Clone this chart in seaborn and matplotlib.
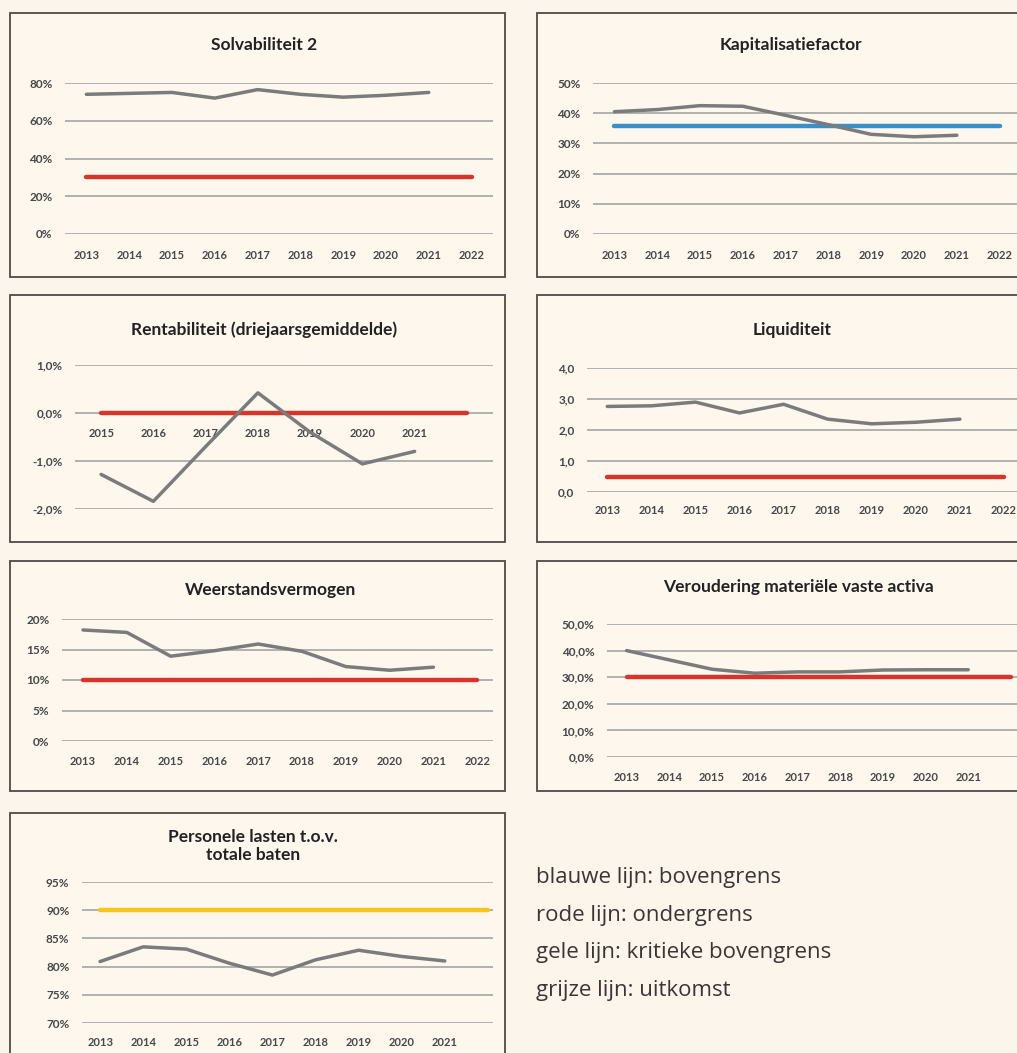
import numpy as np
import pandas as pd
import seaborn as sns
import matplotlib.pyplot as plt
from matplotlib.patches import Rectangle

# jaren en waarden
jaren = ['2013', '2014', '2015', '2016', '2017', '2018', '2019', '2020', '2021', '2022']
jaren_rent = ['2015', '2016', '2017', '2018', '2019', '2020', '2021', '']
jaren_tot_2021 = ['2013', '2014', '2015', '2016', '2017', '2018', '2019', '2020', '2021', '']

solvabiliteit = [74.0, 74.5, 75.0, 72.0, 76.5, 74.0, 72.5, 73.5, 75.0]
solvabiliteit_onder = 30

kapitalisatie = [40.5, 41.2, 42.5, 42.3, 39.3, 36.2, 33.0, 32.2, 32.7]
kapitalisatie_boven = 35.8

rentabiliteit = [-1.28, -1.84, -0.70, 0.42, -0.40, -1.06, -0.80]
rentabiliteit_onder = 0.0

liquiditeit = [2.76, 2.78, 2.90, 2.55, 2.83, 2.35, 2.20, 2.25, 2.35]
liquiditeit_onder = 0.5

weerstand = [18.2, 17.8, 13.9, 14.8, 15.9, 14.7, 12.2, 11.6, 12.1]
weerstand_onder = 10

veroudering = [40.0, 36.5, 33.0, 31.5, 32.0, 32.0, 32.7, 32.8, 32.8]
veroudering_onder = 30

personeel = [80.9, 83.5, 83.1, 80.6, 78.5, 81.2, 82.9, 81.8, 81.0]
personeel_kritiek = 90

yt_solv = ['0%', '20%', '40%', '60%', '80%']
yt_kap = ['0%', '10%', '20%', '30%', '40%', '50%']
yt_rent = ['-2,0%', '-1,0%', '0,0%', '1,0%']
yt_liq = ['0,0', '1,0', '2,0', '3,0', '4,0']
yt_weer = ['0%', '5%', '10%', '15%', '20%']
yt_verou = ['0,0%', '10,0%', '20,0%', '30,0%', '40,0%', '50,0%']
yt_pers = ['70%', '75%', '80%', '85%', '90%', '95%']

legenda = ['blauwe lijn: bovengrens', 'rode lijn: ondergrens',
           'gele lijn: kritieke bovengrens', 'grijze lijn: uitkomst']

BG = '#FCF5EB'
INNER = '#FDF7EE'
FRAME = '#4f4a47'
GRID = '#ababab'
GREY = '#7b7b7b'
RED = '#D8352A'
BLUE = '#3A8FC8'
YELLOW = '#F7C520'

sns.set_theme(style='white')
plt.rcParams['font.family'] = ['Lato', 'DejaVu Sans']

W, H = 1017, 1053
fig = plt.figure(figsize=(W / 100, H / 100), dpi=100, facecolor=BG)


def frame(x0, y0, x1, y1):
    fig.add_artist(Rectangle((x0 / W, 1 - y1 / H), (x1 - x0) / W, (y1 - y0) / H,
                             transform=fig.transFigure, fc=INNER, ec=FRAME,
                             lw=1.3, zorder=-1))


def panel(box, labels, waarden, grens, kleur, yticks, ylabels, xlim, xpad,
          title, tpos, zero_axis=False):
    x0, y0, x1, y1 = box
    ax = fig.add_axes([x0 / W, 1 - y1 / H, (x1 - x0) / W, (y1 - y0) / H])
    ax.set_facecolor('none')
    n = len(labels)
    df = pd.DataFrame({'pos': np.arange(n),
                       'grens': [grens] * n,
                       'uitkomst': waarden + [np.nan] * (n - len(waarden))})
    sns.lineplot(data=df, x='pos', y='grens', ax=ax, color=kleur, lw=3.2,
                 solid_capstyle='round')
    sns.lineplot(data=df.dropna(), x='pos', y='uitkomst', ax=ax, color=GREY,
                 lw=2.5, solid_capstyle='round')
    ax.set_xlim(*xlim)
    ax.set_ylim(yticks[0], yticks[-1])
    ax.set_yticks(yticks)
    ax.set_yticklabels(ylabels)
    ax.set_xticks(np.arange(n))
    ax.set_xticklabels(labels)
    ax.set_xlabel('')
    ax.set_ylabel('')
    ax.yaxis.grid(True, color=GRID, lw=1.3)
    ax.set_axisbelow(True)
    for s in ax.spines.values():
        s.set_visible(False)
    if zero_axis:
        ax.spines['bottom'].set_position(('data', 0))
    ax.tick_params(axis='x', length=0, pad=xpad, labelsize=8, labelcolor='#474747')
    ax.tick_params(axis='y', length=0, pad=9, labelsize=8.5, labelcolor='#474747')
    for t in ax.get_xticklabels() + ax.get_yticklabels():
        t.set_fontweight('bold')
    fig.text(tpos[0] / W, 1 - tpos[1] / H, title, ha='center', va='center',
             fontsize=12.5, fontweight='bold', color='#222222', linespacing=1.2)
    return ax


frame(10, 13, 505, 277)
frame(537, 13, 1040, 277)
frame(10, 295, 505, 542)
frame(537, 295, 1040, 542)
frame(10, 561, 505, 791)
frame(537, 561, 1040, 791)
frame(10, 813, 505, 1070)

panel((65, 83, 493, 234), jaren, solvabiliteit, solvabiliteit_onder, RED,
      [0, 20, 40, 60, 80], yt_solv, (-0.5, 9.5), 11.5, 'Solvabiliteit 2', (264, 45))
panel((593, 83, 1021, 234), jaren, kapitalisatie, kapitalisatie_boven, BLUE,
      [0, 10, 20, 30, 40, 50], yt_kap, (-0.5, 9.5), 11.5, 'Kapitalisatiefactor', (791, 45))
panel((75, 365, 493, 509), jaren_rent, rentabiliteit, rentabiliteit_onder, RED,
      [-2, -1, 0, 1], yt_rent, (-0.5, 7.5), 11,
      'Rentabiliteit (driejaarsgemiddelde)', (264, 330), zero_axis=True)
panel((587, 368, 1026, 492), jaren, liquiditeit, liquiditeit_onder, RED,
      [0, 1, 2, 3, 4], yt_liq, (-0.46, 9.5), 9, 'Liquiditeit', (792, 330))
panel((62, 619, 493, 741), jaren, weerstand, weerstand_onder, RED,
      [0, 5, 10, 15, 20], yt_weer, (-0.48, 9.36), 10.5, 'Weerstandsvermogen', (270, 590))
panel((607, 624, 1034, 757), jaren_tot_2021, veroudering, veroudering_onder, RED,
      [0, 10, 20, 30, 40, 50], yt_verou, (-0.46, 9.54), 11,
      'Veroudering materiële vaste activa', (798, 587))
panel((82, 882, 493, 1023), jaren_tot_2021, personeel, personeel_kritiek, YELLOW,
      [70, 75, 80, 85, 90, 95], yt_pers, (-0.42, 9.12), 10,
      'Personele lasten t.o.v.\ntotale baten', (253, 846))

for i, regel in enumerate(legenda):
    fig.text(536 / W, 1 - (883 + i * 37.7) / H, regel, ha='left', va='baseline',
             fontsize=16, color='#3b3535', family=['Open Sans', 'DejaVu Sans'])

fig.savefig('out.png', dpi=100, facecolor=BG)
